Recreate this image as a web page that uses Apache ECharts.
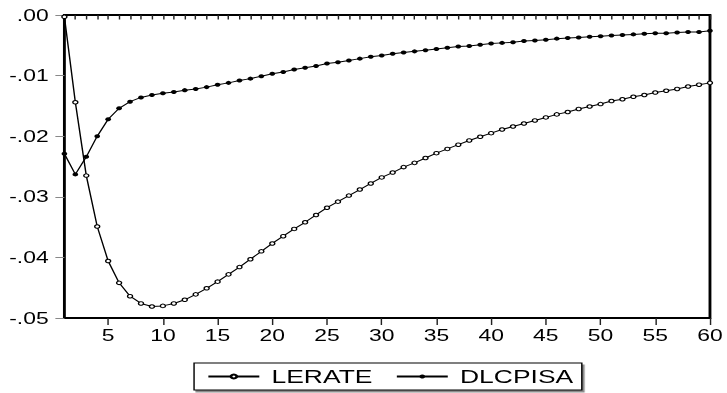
<!DOCTYPE html>
<html>
<head>
<meta charset="utf-8">
<script src="https://cdn.jsdelivr.net/npm/echarts@6/dist/echarts.min.js"></script>
<style>
  html, body { margin: 0; padding: 0; background: #fff; overflow: hidden; }
  /* The chart is laid out at a narrower width and widened horizontally */
  #chart { width: 508px; height: 393px; transform: scaleX(1.4311); transform-origin: 0 0; }
</style>
</head>
<body>
<div id="chart"></div>
<script>
// Response periods 1..60
const periods = [1,2,3,4,5,6,7,8,9,10,11,12,13,14,15,16,17,18,19,20,
  21,22,23,24,25,26,27,28,29,30,31,32,33,34,35,36,37,38,39,40,
  41,42,43,44,45,46,47,48,49,50,51,52,53,54,55,56,57,58,59,60];

// Response of LERATE
const lerate = [-0.0003,-0.0144,-0.0265,-0.0349,-0.0406,-0.0442,-0.0464,-0.0476,-0.0481,-0.0480,
  -0.0476,-0.0470,-0.0461,-0.0451,-0.0440,-0.0428,-0.0416,-0.0403,-0.0390,-0.0377,
  -0.0365,-0.0353,-0.0342,-0.0330,-0.0318,-0.0308,-0.0298,-0.0288,-0.0278,-0.0268,
  -0.0260,-0.0251,-0.0244,-0.0236,-0.0228,-0.0221,-0.0214,-0.0207,-0.0201,-0.0195,
  -0.0189,-0.0184,-0.0179,-0.0174,-0.0169,-0.0164,-0.0160,-0.0155,-0.0151,-0.0147,
  -0.0142,-0.0139,-0.0135,-0.0132,-0.0128,-0.0125,-0.0122,-0.0118,-0.0115,-0.0112];

// Response of DLCPISA
const dlcpisa = [-0.0229,-0.0263,-0.0234,-0.0200,-0.0172,-0.0154,-0.0143,-0.0136,-0.0132,-0.0129,
  -0.0127,-0.0124,-0.0122,-0.0119,-0.0115,-0.0112,-0.0108,-0.0105,-0.0101,-0.0097,
  -0.0094,-0.0090,-0.0087,-0.0084,-0.0080,-0.0078,-0.0075,-0.0072,-0.0069,-0.0067,
  -0.0064,-0.0062,-0.0060,-0.0058,-0.0056,-0.0054,-0.0052,-0.0051,-0.0049,-0.0047,
  -0.0046,-0.0045,-0.0043,-0.0042,-0.0041,-0.0039,-0.0038,-0.0037,-0.0036,-0.0035,
  -0.0034,-0.0033,-0.0032,-0.0031,-0.0030,-0.0030,-0.0029,-0.0028,-0.0028,-0.0026];

const seriesNames = ['LERATE', 'DLCPISA'];

// Value axis range
const yMin = -0.05, yMax = 0, yStep = 0.01;

const FONT = '"Liberation Sans", Arial, sans-serif';

const chart = echarts.init(document.getElementById('chart'), null, { renderer: 'svg' });

chart.setOption({
  animation: false,
  backgroundColor: '#fff',
  textStyle: { fontFamily: FONT, color: '#000' },
  grid: {
    left: 45, right: 10.5, top: 15, bottom: 75,
    show: true, borderColor: '#000', borderWidth: 2, backgroundColor: 'transparent'
  },
  legend: {
    data: seriesNames,
    left: 135.6, top: 363,
    orient: 'horizontal',
    itemWidth: 35.6, itemHeight: 5, itemGap: 16,
    padding: [4, 6, 4, 9],
    backgroundColor: '#fff',
    borderColor: '#000', borderWidth: 1,
    shadowColor: 'rgba(0,0,0,0.45)', shadowBlur: 0, shadowOffsetX: 1.5, shadowOffsetY: 2,
    textStyle: { fontFamily: FONT, fontSize: 18.5, color: '#000', lineHeight: 19, padding: [0, 0, 0, 3.5] }
  },
  xAxis: [{
    type: 'category',
    data: periods,
    boundaryGap: false,
    position: 'bottom',
    axisLine: { show: false },
    axisTick: { show: true, interval: 0, length: 4.5, lineStyle: { color: '#222', width: 1 } },
    axisLabel: {
      interval: (i, v) => Number(v) % 5 === 0,
      margin: 9, fontSize: 16, fontFamily: FONT, color: '#000'
    },
    splitLine: { show: false }
  }, {
    // longer ticks every fifth period
    type: 'category',
    data: periods,
    boundaryGap: false,
    position: 'bottom',
    axisLine: { show: false },
    axisTick: { show: true, interval: (i, v) => Number(v) % 5 === 0, length: 7, lineStyle: { color: '#222', width: 1 } },
    axisLabel: { show: false },
    splitLine: { show: false }
  }],
  yAxis: {
    type: 'value',
    min: yMin, max: yMax, interval: yStep,
    axisLine: { show: false },
    axisTick: { show: true, length: 6.3, lineStyle: { color: '#888', width: 1 } },
    axisLabel: {
      margin: 11, fontSize: 16, fontFamily: FONT, color: '#000',
      formatter: v => v.toFixed(2).replace('0.', '.')
    },
    splitLine: { show: false }
  },
  series: [{
    name: seriesNames[0],
    type: 'line',
    data: lerate,
    xAxisIndex: 0,
    symbol: 'circle',
    symbolSize: 3.5,
    showAllSymbol: true,
    lineStyle: { color: '#000', width: 1 },
    itemStyle: { color: '#fff', borderColor: '#000', borderWidth: 1 },
    z: 3
  }, {
    name: seriesNames[1],
    type: 'line',
    data: dlcpisa,
    xAxisIndex: 0,
    symbol: 'circle',
    symbolSize: 4,
    showAllSymbol: true,
    lineStyle: { color: '#000', width: 1 },
    itemStyle: { color: '#000', borderColor: '#000', borderWidth: 0 },
    z: 3
  }]
});
</script>
</body>
</html>
